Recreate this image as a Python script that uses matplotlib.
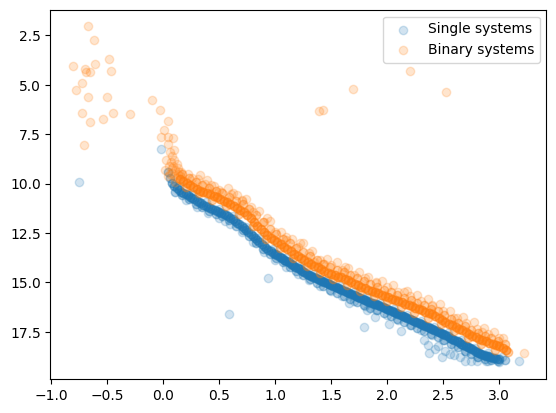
import matplotlib
matplotlib.use("Agg")
import matplotlib.pyplot as plt
import numpy as np

# ---- Single systems: main-sequence ridge (x, y, number of stars stacked) ----
single_x_core = [0.04,0.06,0.08,0.10,0.12,0.14,0.16,0.18,0.20,0.22,0.24,0.26,0.28,0.30,0.32,0.34,0.36,0.38,0.40,0.42,
    0.44,0.46,0.48,0.50,0.52,0.54,0.56,0.58,0.60,0.62,0.64,0.66,0.68,0.70,0.72,0.74,0.76,0.78,0.80,0.82,
    0.84,0.86,0.88,0.90,0.92,0.94,0.96,0.98,1.00,1.02,1.04,1.06,1.08,1.10,1.12,1.14,1.16,1.18,1.20,1.22,
    1.24,1.26,1.28,1.30,1.32,1.34,1.36,1.38,1.40,1.42,1.44,1.46,1.48,1.50,1.52,1.54,1.56,1.58,1.60,1.62,
    1.64,1.66,1.68,1.70,1.72,1.74,1.76,1.78,1.80,1.82,1.84,1.86,1.88,1.90,1.92,1.94,1.96,1.98,2.00,2.02,
    2.04,2.06,2.08,2.10,2.12,2.14,2.16,2.18,2.20,2.22,2.24,2.26,2.28,2.30,2.32,2.34,2.36,2.38,2.40,2.42,
    2.44,2.46,2.48,2.50,2.52,2.54,2.56,2.58,2.60,2.62,2.64,2.66,2.68,2.70,2.72,2.74,2.76,2.78,2.80,2.82,
    2.84,2.86,2.88,2.90,2.92,2.94,2.96,2.98,3.00]
single_y_core = [9.4,9.7,9.95,10.1,10.2,10.3,10.4,10.45,10.55,10.6,10.7,10.75,10.8,10.9,10.95,11.0,11.1,11.15,11.2,11.25,
    11.3,11.35,11.4,11.45,11.5,11.55,11.6,11.65,11.75,11.8,11.9,12.0,12.05,12.15,12.25,12.35,12.45,12.55,12.65,12.75,
    12.85,12.95,13.05,13.15,13.25,13.35,13.4,13.5,13.55,13.6,13.7,13.75,13.85,13.9,13.95,14.05,14.1,14.2,14.25,14.3,
    14.4,14.45,14.55,14.6,14.65,14.75,14.8,14.85,14.9,14.95,15.0,15.05,15.1,15.15,15.2,15.25,15.3,15.35,15.4,15.45,
    15.5,15.55,15.6,15.65,15.7,15.75,15.8,15.85,15.9,15.95,16.0,16.05,16.1,16.1,16.15,16.2,16.25,16.3,16.35,16.4,
    16.45,16.5,16.55,16.6,16.65,16.7,16.75,16.8,16.85,16.9,16.95,17.0,17.05,17.1,17.15,17.2,17.25,17.3,17.35,17.4,
    17.45,17.5,17.55,17.6,17.65,17.7,17.8,17.85,17.9,17.95,18.0,18.1,18.15,18.2,18.25,18.3,18.35,18.45,18.5,18.55,
    18.6,18.65,18.7,18.7,18.75,18.8,18.8,18.85,18.85]
single_n_core = [2,2,3,3,3,3,3,3,3,3,3,3,3,3,3,3,3,3,3,3,
    3,3,3,3,3,3,3,3,3,3,3,3,3,3,3,3,3,3,3,3,
    3,3,3,3,3,3,3,3,4,4,4,4,4,4,4,4,4,4,4,4,
    4,4,4,4,4,4,4,4,4,4,4,4,4,4,4,4,4,4,4,4,
    4,4,4,4,4,4,4,4,4,4,4,4,4,4,4,4,4,4,4,4,
    4,4,4,4,4,4,4,4,4,4,4,4,4,4,4,4,4,4,4,4,
    4,4,4,4,4,4,4,4,4,4,4,4,4,4,4,4,4,4,4,4,
    4,4,4,4,4,4,3,3,3]

# ---- Single systems: fainter side of the ridge ----
single_x_low = [0.11,0.17,0.23,0.29,0.35,0.41,0.47,0.53,0.59,0.65,0.71,0.77,0.83,0.89,0.95,1.01,1.07,1.13,1.19,1.25,
    1.31,1.37,1.43,1.49,1.55,1.61,1.67,1.73,1.79,1.85,1.91,1.97,2.03,2.09,2.15,2.21,2.27,2.33,2.39,2.45,
    2.51,2.57,2.63,2.69,2.75,2.81,2.87,2.93,2.99,3.05]
single_y_low = [10.4,10.6,10.8,11.05,11.2,11.4,11.55,11.65,11.85,12.15,12.35,12.65,13.0,13.3,13.55,13.75,13.95,14.2,14.4,14.6,
    14.85,15.05,15.2,15.4,15.55,15.7,15.85,16.0,16.15,16.3,16.4,16.55,16.7,16.85,17.0,17.15,17.3,17.45,17.6,17.75,
    17.9,18.1,18.25,18.45,18.6,18.75,18.85,18.9,18.95,18.9]
single_n_low = [2]*50

single_x_low2 = [0.20,0.30,0.40,0.50,0.60,0.70,0.80,0.90,1.00,1.10,1.20,1.30,1.40,1.50,1.60,1.70,1.80,1.90,2.00,2.10,
    2.20,2.30,2.40,2.50,2.60,2.70,2.80,2.90,3.00]
single_y_low2 = [10.85,11.2,11.5,11.75,12.05,12.45,12.95,13.45,13.85,14.2,14.55,14.9,15.2,15.45,15.7,15.95,16.2,16.4,16.65,16.9,
    17.15,17.4,17.65,17.9,18.2,18.5,18.75,18.95,19.05]

single_x_high = [0.14,0.26,0.38,0.50,0.62,0.74,0.86,0.98,1.10,1.22,1.34,1.46,1.58,1.70,1.82,1.94,2.06,2.18,2.30,2.42,
    2.54,2.66,2.78,2.90,3.02]
single_y_high = [10.1,10.55,10.95,11.3,11.65,12.2,12.75,13.3,13.75,14.15,14.55,14.9,15.2,15.5,15.75,16.05,16.35,16.65,16.95,17.25,
    17.55,17.9,18.3,18.55,18.75]

# ---- Single systems: scattered stars ----
single_x_out = [-0.75,-0.02,0.59,0.94,1.66,1.79,1.82,1.89,2.02,2.12,2.36,2.37,2.43,2.49,2.56,2.60,2.69,2.80,3.18,0.55,
    2.33,2.45,2.52,2.65,2.75,2.88]
single_y_out = [9.92,8.24,16.6,14.8,16.05,17.25,16.4,16.74,17.1,17.48,18.15,18.57,18.37,18.79,18.6,18.67,18.99,19.0,18.99,11.9,
    17.9,18.2,18.45,18.75,18.95,19.0]

# ---- Binary systems: ridge ----
binary_x_core = [0.15,0.18,0.21,0.24,0.27,0.30,0.33,0.36,0.39,0.42,0.45,0.48,0.51,0.54,0.57,0.60,0.63,0.66,0.69,0.72,
    0.75,0.78,0.81,0.84,0.87,0.90,0.93,0.96,0.99,1.02,1.05,1.08,1.11,1.14,1.17,1.20,1.23,1.26,1.29,1.32,
    1.35,1.38,1.41,1.44,1.47,1.50,1.53,1.56,1.59,1.62,1.65,1.68,1.71,1.74,1.77,1.80,1.83,1.86,1.89,1.92,
    1.95,1.98,2.01,2.04,2.07,2.10,2.13,2.16,2.19,2.22,2.25,2.28,2.31,2.34,2.37,2.40,2.43,2.46,2.49,2.52,
    2.55,2.58,2.61,2.64,2.67,2.70,2.73,2.76,2.79,2.82,2.85,2.88,2.91,2.94,2.97,3.00,3.03,3.06]
binary_y_core = [9.75,9.85,9.95,10.05,10.15,10.25,10.35,10.4,10.5,10.55,10.65,10.7,10.8,10.9,10.95,11.05,11.15,11.25,11.35,11.45,
    11.6,11.75,11.95,12.15,12.3,12.45,12.6,12.75,12.85,12.95,13.05,13.2,13.3,13.4,13.55,13.65,13.75,13.85,13.95,14.05,
    14.15,14.2,14.3,14.4,14.5,14.55,14.6,14.7,14.75,14.85,14.9,15.0,15.1,15.15,15.25,15.3,15.4,15.45,15.5,15.55,
    15.65,15.7,15.75,15.85,15.9,15.95,16.0,16.1,16.15,16.2,16.3,16.35,16.4,16.5,16.55,16.6,16.7,16.8,16.9,17.0,
    17.1,17.15,17.25,17.35,17.4,17.5,17.6,17.7,17.75,17.85,17.9,17.95,18.05,18.1,18.15,18.2,18.3,18.4]
binary_n_core = [4]*98

binary_x_up = [0.17,0.23,0.29,0.35,0.41,0.47,0.53,0.59,0.65,0.71,0.77,0.83,0.89,0.95,1.01,1.07,1.13,1.19,1.25,1.31,
    1.37,1.43,1.49,1.55,1.61,1.67,1.73,1.79,1.85,1.91,1.97,2.03,2.09,2.15,2.21,2.27,2.33,2.39,2.45,2.51,
    2.57,2.63,2.69,2.75,2.81,2.87,2.93,2.99,3.05]
binary_y_up = [9.5,9.7,9.9,10.05,10.2,10.35,10.5,10.7,10.9,11.05,11.3,11.6,11.95,12.3,12.55,12.8,13.0,13.25,13.45,13.65,
    13.85,14.05,14.2,14.35,14.45,14.6,14.8,14.95,15.1,15.25,15.4,15.5,15.65,15.8,15.9,16.05,16.15,16.35,16.45,16.65,
    16.85,17.05,17.2,17.4,17.55,17.7,17.8,17.95,18.1]
binary_n_up = [2]*49

binary_x_up2 = [0.22,0.31,0.43,0.50,0.61,0.70,0.80,0.90,1.00,1.10,1.20,1.30,1.40,1.50,1.60,1.70,1.80,1.90,2.00,2.10,
    2.20,2.30,2.40,2.50,2.60,2.70,2.80,2.90,3.00]
binary_y_up2 = [9.5,9.75,10.05,10.3,10.55,10.85,11.45,11.95,12.45,12.85,13.2,13.5,13.85,14.1,14.35,14.6,14.8,15.05,15.25,15.5,
    15.7,15.95,16.15,16.45,16.8,17.05,17.35,17.6,17.8]

binary_x_up3 = [0.26,0.37,0.45,0.62,0.66,0.74,0.86,0.93,1.05,1.15,1.22,1.33,1.46,1.55,1.65,1.75,1.83,1.95,2.05,2.18,
    2.27,2.36,2.47,2.56,2.68,2.77,2.86,2.95,3.03]
binary_y_up3 = [9.7,10.0,10.1,10.5,10.6,10.8,11.4,11.75,12.45,12.8,13.0,13.4,13.8,13.95,14.25,14.45,14.7,14.95,15.15,15.45,
    15.65,15.85,16.1,16.45,16.75,17.0,17.3,17.5,17.8]

binary_x_low = [0.20,0.32,0.44,0.56,0.68,0.80,0.92,1.04,1.16,1.28,1.40,1.52,1.64,1.76,1.88,2.00,2.12,2.24,2.36,2.48,
    2.60,2.72,2.84,2.96,3.08]
binary_y_low = [10.15,10.5,10.85,11.15,11.55,12.15,12.8,13.25,13.75,14.15,14.5,14.85,15.15,15.45,15.7,15.95,16.25,16.55,16.8,17.1,
    17.45,17.8,18.1,18.4,18.5]
binary_n_low = [2]*25

# ---- Binary systems: turn-off clump and scattered stars ----
binary_x_out = [-0.667,-0.616,-0.482,-0.804,-0.699,-0.684,-0.648,-0.604,-0.467,-0.723,-0.777,-0.670,-0.500,-0.723,-0.652,
    -0.536,-0.446,-0.297,-0.705,-0.098,-0.027,0.042,0.009,-0.018,0.045,0.09,0.10,0.03,0.06,0.08,
    0.04,0.10,0.12,0.05,0.08,0.11,0.14,0.06,0.10,0.13,0.02,0.16,2.205,1.696,2.527,1.393,1.429,
    0.33,0.39,0.52,0.58,1.10,1.35,1.44,3.22,0.70,0.78,0.95,1.25,1.62,1.90,2.15,2.40,2.62,2.85,
    0.07,0.09,0.12,0.04,0.11,0.13,0.08,0.15]
binary_y_out = [2.05,2.72,3.72,4.06,4.18,4.35,4.35,3.96,4.31,4.90,5.27,5.61,5.64,6.45,6.88,
    6.73,6.45,6.50,8.04,5.77,6.28,6.83,7.29,7.62,7.62,7.70,8.29,8.83,8.4,8.6,
    8.0,8.8,9.0,9.1,9.2,9.3,9.4,9.5,9.6,9.5,9.3,9.4,4.28,5.19,5.34,6.33,6.28,
    9.55,9.8,10.4,10.2,12.69,13.99,14.09,18.55,10.9,11.2,11.9,13.0,14.2,15.0,15.5,16.2,16.8,17.5,
    8.9,9.1,9.7,9.6,9.9,9.2,9.45,9.6]

single_x = np.concatenate([np.repeat(single_x_core, single_n_core), np.repeat(single_x_low, single_n_low),
                           single_x_low2, single_x_high, single_x_out])
single_y = np.concatenate([np.repeat(single_y_core, single_n_core), np.repeat(single_y_low, single_n_low),
                           single_y_low2, single_y_high, single_y_out])
binary_x = np.concatenate([np.repeat(binary_x_core, binary_n_core), np.repeat(binary_x_up, binary_n_up),
                           binary_x_up2, binary_x_up3, np.repeat(binary_x_low, binary_n_low), binary_x_out])
binary_y = np.concatenate([np.repeat(binary_y_core, binary_n_core), np.repeat(binary_y_up, binary_n_up),
                           binary_y_up2, binary_y_up3, np.repeat(binary_y_low, binary_n_low), binary_y_out])

fig, ax = plt.subplots(figsize=(6.4, 4.8), dpi=100)
ax.scatter(single_x, single_y, alpha=0.2, label="Single systems")
ax.scatter(binary_x, binary_y, alpha=0.2, label="Binary systems")
ax.invert_yaxis()
ax.legend()
fig.savefig("out.png", dpi=100, bbox_inches="tight")
